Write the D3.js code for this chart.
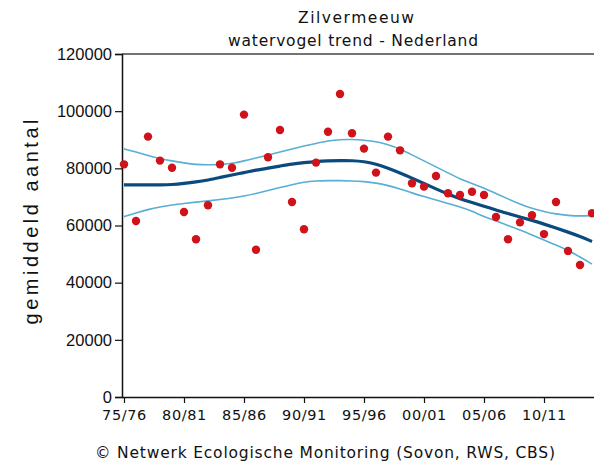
<!DOCTYPE html>
<meta charset="utf-8">
<style>
body { margin: 0; background: #fff; }
svg { display: block; }
.title, .footer { font-family: "DejaVu Sans", sans-serif; font-size: 15.5px; fill: #111; }
.xlab { font-family: "DejaVu Sans", sans-serif; font-size: 14.5px; fill: #111; }
.ylab { font-family: "Liberation Sans", Arial, sans-serif; font-size: 16.5px; fill: #111; }
.ytitle { font-family: "Liberation Sans", Arial, sans-serif; font-size: 20px; fill: #111; }
</style>
<svg width="594" height="466"></svg>
<script src="https://cdn.jsdelivr.net/npm/d3@7"></script>
<script>

// seasons 1975/76 .. 2014/15
var seasons = d3.range(1975, 2015).map(function(y) {
  return String(y % 100).padStart(2, "0") + "/" + String((y + 1) % 100).padStart(2, "0");
});

// yearly index counts (x1000)
var counts = [81.4, 61.6, 91.1, 82.7, 80.2, 64.7, 55.2, 67.1, 81.4, 80.2,
              98.8, 51.5, 83.9, 93.4, 68.2, 58.7, 82.0, 92.8, 106.0, 92.3,
              86.9, 78.5, 91.1, 86.3, 74.8, 73.6, 77.3, 71.3, 70.7, 71.8,
              70.7, 63.0, 55.2, 61.1, 63.6, 57.0, 68.2, 51.1, 46.2, 64.3];

var trend = [74.2, 74.2, 74.2, 74.2, 74.3, 74.7, 75.2, 75.9, 76.8, 77.7,
             78.5, 79.4, 80.1, 80.8, 81.5, 82.0, 82.4, 82.6, 82.7, 82.7,
             82.4, 81.5, 80.1, 78.4, 76.6, 74.7, 72.8, 71.0, 69.3, 68.0,
             66.8, 65.4, 64.2, 63.0, 61.8, 60.5, 59.1, 57.7, 56.2, 54.4];

var upper = [86.8, 85.7, 84.5, 83.4, 82.6, 81.9, 81.3, 81.2, 81.3, 81.7,
             82.6, 83.6, 84.7, 85.7, 86.8, 87.8, 88.7, 89.6, 90.1, 90.1,
             89.9, 89.4, 88.3, 86.8, 84.7, 82.6, 80.5, 78.4, 76.3, 74.7,
             73.1, 71.2, 69.3, 67.5, 65.9, 64.9, 64.0, 63.5, 63.3, 63.5];

var lower = [63.1, 64.4, 65.6, 66.5, 67.2, 67.7, 68.2, 68.6, 69.1, 69.6,
             70.3, 71.2, 72.2, 73.3, 74.3, 75.2, 75.6, 75.7, 75.7, 75.6,
             75.4, 74.9, 74.0, 72.8, 71.4, 70.1, 68.9, 67.7, 66.5, 65.1,
             63.0, 61.6, 60.0, 58.4, 56.7, 54.9, 53.2, 51.3, 49.0, 46.5];

var yTicks = [0, 20000, 40000, 60000, 80000, 100000, 120000];
var xTicks = ["75/76", "80/81", "85/86", "90/91", "95/96", "00/01", "05/06", "10/11"];

var svg = d3.select("svg");

var x = d3.scalePoint().domain(seasons).range([124, 592]),
    y = d3.scaleLinear().domain([0, 120000]).range([397, 54]);

// top border
svg.append("line")
    .attr("x1", 122).attr("x2", 594)
    .attr("y1", y(120000)).attr("y2", y(120000))
    .attr("stroke", "#444").attr("stroke-width", 1.5);

// y axis
var gy = svg.append("g")
    .attr("transform", "translate(122,0)")
    .call(d3.axisLeft(y).tickValues(yTicks).tickSize(7).tickPadding(3).tickFormat(d3.format("d")));
gy.select(".domain").attr("stroke", "#111").attr("stroke-width", 1.5);
gy.selectAll(".tick line").attr("stroke", "#111").attr("stroke-width", 1.2);
gy.selectAll(".tick text").attr("class", "ylab").attr("font-family", null).attr("font-size", null);

// x axis
var gx = svg.append("g")
    .attr("transform", "translate(0,397)")
    .call(d3.axisBottom(x).tickValues(xTicks).tickSize(6).tickPadding(7).tickSizeOuter(0));
gx.select(".domain").attr("d", "M122,0.5H594").attr("stroke", "#111").attr("stroke-width", 1.5);
gx.selectAll(".tick line").attr("stroke", "#111").attr("stroke-width", 1.2);
gx.selectAll(".tick text").attr("class", "xlab").attr("font-family", null).attr("font-size", null)
    .attr("letter-spacing", "0.6px");

var line = function(arr) {
  return d3.line()
    .x(function(d, i) { return x(seasons[i]); })
    .y(function(d) { return y(d * 1000); })
    .curve(d3.curveBasis)(arr);
};

svg.append("path").attr("d", line(upper))
    .attr("fill", "none").attr("stroke", "#58aed4").attr("stroke-width", 1.6);
svg.append("path").attr("d", line(lower))
    .attr("fill", "none").attr("stroke", "#58aed4").attr("stroke-width", 1.6);
svg.append("path").attr("d", line(trend))
    .attr("fill", "none").attr("stroke", "#0b4a7c").attr("stroke-width", 3.2);

svg.selectAll(".dot")
  .data(counts)
  .enter().append("circle")
    .attr("class", "dot")
    .attr("cx", function(d, i) { return x(seasons[i]); })
    .attr("cy", function(d) { return y(d * 1000); })
    .attr("r", 4.2)
    .attr("fill", "#d0121b");

// titles
svg.append("text").attr("class", "title")
    .attr("x", 356).attr("y", 23).attr("text-anchor", "middle")
    .attr("textLength", 116).attr("lengthAdjust", "spacing")
    .text("Zilvermeeuw");
svg.append("text").attr("class", "title")
    .attr("x", 353).attr("y", 46).attr("text-anchor", "middle")
    .attr("textLength", 250).attr("lengthAdjust", "spacing")
    .text("watervogel trend - Nederland");

svg.append("text").attr("class", "ytitle")
    .attr("transform", "translate(38,222) rotate(-90)")
    .attr("text-anchor", "middle")
    .attr("textLength", 205).attr("lengthAdjust", "spacing")
    .text("gemiddeld aantal");

svg.append("text").attr("class", "footer")
    .attr("x", 325).attr("y", 458).attr("text-anchor", "middle")
    .attr("textLength", 460).attr("lengthAdjust", "spacing")
    .text("© Netwerk Ecologische Monitoring (Sovon, RWS, CBS)");

</script>
